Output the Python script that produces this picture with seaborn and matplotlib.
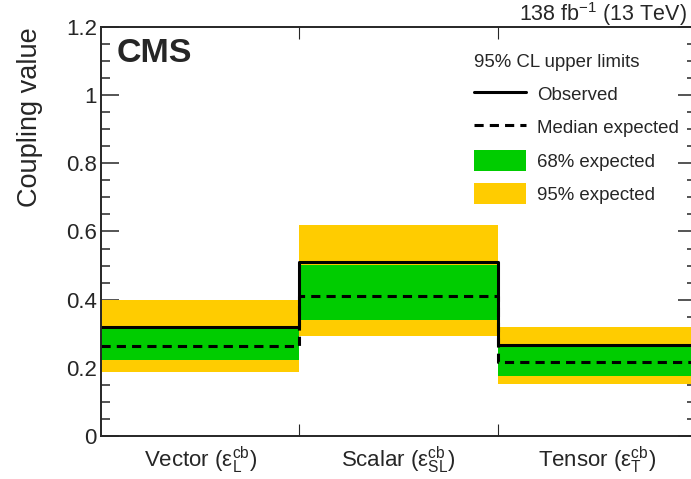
import numpy as np
import matplotlib
matplotlib.use("Agg")
import matplotlib.pyplot as plt
import seaborn as sns
from matplotlib.lines import Line2D
from matplotlib.patches import Patch
from matplotlib.ticker import MultipleLocator, FuncFormatter, FixedLocator

# values
categories = [r"Vector ($\mathrm{ε}^{\mathrm{cb}}_{\mathrm{L}}$)",
              r"Scalar ($\mathrm{ε}^{\mathrm{cb}}_{\mathrm{SL}}$)",
              r"Tensor ($\mathrm{ε}^{\mathrm{cb}}_{\mathrm{T}}$)"]
observed = [0.320, 0.511, 0.268]
expected = [0.265, 0.412, 0.216]
lo68 = [0.224, 0.340, 0.177]
hi68 = [0.317, 0.503, 0.263]
lo95 = [0.189, 0.294, 0.154]
hi95 = [0.400, 0.618, 0.320]

sns.set_style("ticks")
plt.rcParams['font.family'] = ['Liberation Sans', 'DejaVu Sans']
plt.rcParams['mathtext.fontset'] = 'custom'
plt.rcParams['mathtext.rm'] = 'Liberation Sans'
plt.rcParams['mathtext.it'] = 'Liberation Sans:italic'
plt.rcParams['mathtext.bf'] = 'Liberation Sans:bold'

green = "#00CC00"
yellow = "#FFCC00"

edges = np.arange(len(categories) + 1)
def ext(v):
    return np.append(v, v[-1])

fig = plt.figure(figsize=(6.91, 4.79), dpi=100)
ax = fig.add_axes([101/691, 43/479, 595/691, 409/479])

ax.fill_between(edges, ext(lo95), ext(hi95), step='post', color=yellow, lw=0)
ax.fill_between(edges, ext(lo68), ext(hi68), step='post', color=green, lw=0)
sns.lineplot(x=edges, y=ext(expected), drawstyle='steps-post', color='black',
             lw=2.2, linestyle=(0, (3, 2)), ax=ax)
sns.lineplot(x=edges, y=ext(observed), drawstyle='steps-post', color='black',
             lw=2.2, ax=ax)

ax.set_xlim(0, 3)
ax.set_ylim(0, 1.2)

for s in ax.spines.values():
    s.set_visible(True)
    s.set_linewidth(1.4)
    s.set_zorder(5)

ax.yaxis.set_major_locator(MultipleLocator(0.2))
ax.yaxis.set_minor_locator(MultipleLocator(0.05))
ax.yaxis.set_major_formatter(FuncFormatter(lambda v, p: "%g" % round(v, 2)))
ax.tick_params(axis='y', which='major', direction='in', length=13, width=1.1,
               left=True, right=True, labelsize=16, pad=3)
ax.tick_params(axis='y', which='minor', direction='in', length=6.5, width=1.1,
               left=True, right=True)

ax.xaxis.set_major_locator(FixedLocator([1, 2]))
ax.xaxis.set_major_formatter(FuncFormatter(lambda v, p: ""))
ax.xaxis.set_minor_locator(FixedLocator([0.5, 1.5, 2.5]))
ax.set_xticklabels(categories, minor=True)
ax.tick_params(axis='x', which='major', direction='in', length=8.6, width=0.8,
               bottom=True, top=True)
ax.tick_params(axis='x', which='minor', length=0, labelsize=16, pad=6)

ax.set_xlabel("")
ax.set_ylabel("Coupling value", fontsize=19.5, loc='top')
ax.yaxis.set_label_coords(-0.098, 1.0)

ax.text(0.027, 0.914, "CMS", transform=ax.transAxes, fontsize=24.5,
        fontweight='bold', va='baseline', ha='left')
fig.text(687/691, 1 - 21/479, r"138 fb$^{-1}$ (13 TeV)", fontsize=15.5,
         ha='right', va='baseline')

handles = [Line2D([], [], color='black', lw=2.2),
           Line2D([], [], color='black', lw=2.2, linestyle=(0, (3, 2))),
           Patch(facecolor=green, edgecolor='none'),
           Patch(facecolor=yellow, edgecolor='none')]
labels = ["Observed", "Median expected", "68% expected", "95% expected"]
leg = ax.legend(handles, labels, title="95% CL upper limits", loc='upper left',
                bbox_to_anchor=(0.611, 0.956), frameon=False, fontsize=13.4,
                title_fontsize=13.4, borderpad=0, handlelength=2.8,
                handleheight=1.33, labelspacing=0.67, handletextpad=0.6,
                alignment='left')

fig.savefig("out.png", dpi=100)
